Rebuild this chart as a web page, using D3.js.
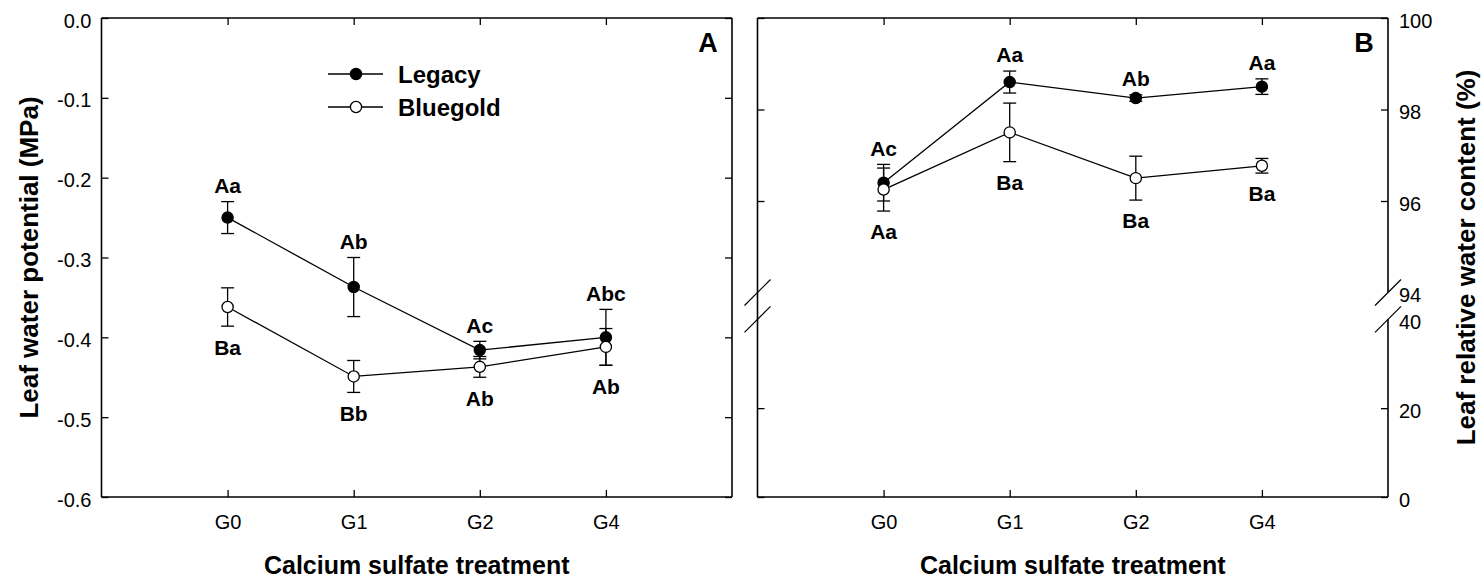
<!DOCTYPE html>
<html><head><meta charset="utf-8">
<script src="https://cdn.jsdelivr.net/npm/d3@7"></script>
<style>
body{margin:0;background:#fff}
svg{display:block}
text{font-family:"Liberation Sans",Arial,Helvetica,sans-serif;fill:#000}
</style>
</head><body>
<svg id="chart" width="1483" height="581"></svg>
<script>
// ---------------- data ----------------
const categories = ["G0", "G1", "G2", "G4"];
const seriesNames = ["Legacy", "Bluegold"];

// Panel A: leaf water potential (MPa)
const potLegacy = [-0.25, -0.337, -0.416, -0.400];
const potLegacyErr = [0.020, 0.037, 0.011, 0.035];
const potBluegold = [-0.362, -0.449, -0.437, -0.412];
const potBluegoldErr = [0.024, 0.020, 0.013, 0.023];
const potLegacyLetters = ["Aa", "Ab", "Ac", "Abc"];
const potBluegoldLetters = ["Ba", "Bb", "Ab", "Ab"];
const potTicks = [0, -0.1, -0.2, -0.3, -0.4, -0.5, -0.6];

// Panel B: leaf relative water content (%)
const rwcLegacy = [96.4, 98.6, 98.25, 98.5];
const rwcLegacyErr = [0.40, 0.24, 0.07, 0.17];
const rwcBluegold = [96.25, 97.5, 96.5, 96.77];
const rwcBluegoldErr = [0.47, 0.64, 0.48, 0.16];
const rwcLegacyLetters = ["Ac", "Aa", "Ab", "Aa"];
const rwcBluegoldLetters = ["Aa", "Ba", "Ba", "Ba"];
const rwcTicks = [100, 98, 96, 94, 40, 20, 0];
const rwcBreak = [40, 94];

// ---------------- drawing ----------------
const svg = d3.select("#chart");
const plotTop = 18, plotBottom = 497;
const tickLen = 7;
const fmtPot = d => d.toFixed(1);

const xA = d3.scaleLinear().domain([-1, 4]).range([101.5, 732]);
const xB = d3.scaleLinear().domain([-1, 4]).range([757.5, 1388]);
const yA = d3.scaleLinear().domain([-0.6, 0]).range([plotBottom, plotTop]);
const yB = d3.scaleLinear().domain([0, rwcBreak[0], rwcBreak[1], 100]).range([plotBottom, 319.3, 292.5, plotTop]);

const idx = categories.map((c, i) => i);

function cleanAxis(g) {
  g.select(".domain").remove();
  g.selectAll(".tick line").attr("stroke", "#000").attr("stroke-width", 1.3);
  g.selectAll(".tick text").attr("font-size", 20).attr("fill", "#000")
    .style("font-family", '"Liberation Sans",Arial,sans-serif');
}

function panel(x, y, opts) {
  const g = svg.append("g");
  const [x0, x1] = x.range();
  // axes
  g.append("g").attr("transform", `translate(0,${plotBottom})`)
    .call(d3.axisBottom(x).tickValues(idx).tickFormat(i => categories[i]).tickSize(-tickLen).tickSizeOuter(0).tickPadding(18))
    .call(cleanAxis);
  g.append("g").attr("transform", `translate(0,${plotTop})`)
    .call(d3.axisTop(x).tickValues(idx).tickFormat("").tickSize(-tickLen).tickSizeOuter(0))
    .call(cleanAxis);
  opts.axes(g, x0, x1);

  // frame
  const frame = g.append("g").attr("stroke", "#000").attr("stroke-width", 1.6).attr("fill", "none");
  frame.append("line").attr("x1", x0).attr("x2", x1).attr("y1", plotTop).attr("y2", plotTop);
  frame.append("line").attr("x1", x0).attr("x2", x1).attr("y1", plotBottom).attr("y2", plotBottom);
  frame.append("line").attr("x1", x0).attr("x2", x0).attr("y1", plotTop).attr("y2", plotBottom);
  if (opts.breakRight) {
    frame.append("line").attr("x1", x1).attr("x2", x1).attr("y1", plotTop).attr("y2", y(rwcBreak[1]));
    frame.append("line").attr("x1", x1).attr("x2", x1).attr("y1", y(rwcBreak[0])).attr("y2", plotBottom);
    [x0, x1].forEach(xx => {
      rwcBreak.forEach(v => {
        frame.append("line").attr("stroke-width", 1.2)
          .attr("x1", xx - 13).attr("y1", y(v) + 13)
          .attr("x2", xx + 13).attr("y2", y(v) - 13);
      });
    });
  } else {
    frame.append("line").attr("x1", x1).attr("x2", x1).attr("y1", plotTop).attr("y2", plotBottom);
  }

  const series = [
    {vals: opts.s1, err: opts.e1, fill: "#000", letters: opts.l1, above: true},
    {vals: opts.s2, err: opts.e2, fill: "#fff", letters: opts.l2, above: false}
  ];
  // error bars
  const eb = g.append("g").attr("stroke", "#000").attr("stroke-width", 1.3);
  series.forEach(s => {
    s.vals.forEach((v, i) => {
      const cx = x(i), yt = y(v + s.err[i]), yb = y(v - s.err[i]);
      eb.append("line").attr("x1", cx).attr("x2", cx).attr("y1", yt).attr("y2", yb);
      eb.append("line").attr("x1", cx - 6.5).attr("x2", cx + 6.5).attr("y1", yt).attr("y2", yt);
      eb.append("line").attr("x1", cx - 6.5).attr("x2", cx + 6.5).attr("y1", yb).attr("y2", yb);
    });
  });
  // lines
  const line = d3.line().x((d, i) => x(i)).y(d => y(d));
  series.forEach(s => {
    g.append("path").datum(s.vals).attr("d", line)
      .attr("fill", "none").attr("stroke", "#000").attr("stroke-width", 1.3);
  });
  // markers
  series.forEach(s => {
    g.append("g").selectAll("circle").data(s.vals).join("circle")
      .attr("cx", (d, i) => x(i)).attr("cy", d => y(d)).attr("r", 5.6)
      .attr("fill", s.fill).attr("stroke", "#000").attr("stroke-width", 1.3);
  });
  // letters
  series.forEach(s => {
    g.append("g").selectAll("text").data(s.vals).join("text")
      .attr("x", (d, i) => x(i))
      .attr("y", (d, i) => s.above ? y(d + s.err[i]) - 16 : y(d - s.err[i]) + 21)
      .attr("dy", "0.35em").attr("text-anchor", "middle")
      .attr("font-size", 21).attr("font-weight", "bold")
      .text((d, i) => s.letters[i]);
  });
  // panel letter
  g.append("text").attr("x", x1 - 24).attr("y", 52).attr("text-anchor", "middle")
    .attr("font-size", 27).attr("font-weight", "bold").text(opts.letter);
  // x title
  g.append("text").attr("x", (x0 + x1) / 2).attr("y", 574).attr("text-anchor", "middle")
    .attr("font-size", 25).attr("font-weight", "bold").text("Calcium sulfate treatment");
  return g;
}

// Panel A
panel(xA, yA, {
  s1: potLegacy, e1: potLegacyErr, s2: potBluegold, e2: potBluegoldErr,
  l1: potLegacyLetters, l2: potBluegoldLetters, letter: "A",
  axes: (g, x0, x1) => {
    g.append("g").attr("transform", `translate(${x0},0)`)
      .call(d3.axisLeft(yA).tickValues(potTicks).tickFormat(fmtPot).tickSize(-tickLen).tickSizeOuter(0).tickPadding(10))
      .call(cleanAxis)
      .selectAll(".tick text").attr("dy", "0.45em");
    g.append("g").attr("transform", `translate(${x1},0)`)
      .call(d3.axisRight(yA).tickValues(potTicks).tickFormat("").tickSize(-tickLen).tickSizeOuter(0))
      .call(cleanAxis);
  }
});

// Panel B
panel(xB, yB, {
  s1: rwcLegacy, e1: rwcLegacyErr, s2: rwcBluegold, e2: rwcBluegoldErr,
  l1: rwcLegacyLetters, l2: rwcBluegoldLetters, letter: "B", breakRight: true,
  axes: (g, x0, x1) => {
    const inner = rwcTicks.filter(v => !rwcBreak.includes(v));
    g.append("g").attr("transform", `translate(${x0},0)`)
      .call(d3.axisLeft(yB).tickValues(inner).tickFormat("").tickSize(-tickLen).tickSizeOuter(0))
      .call(cleanAxis);
    const ra = g.append("g").attr("transform", `translate(${x1},0)`)
      .call(d3.axisRight(yB).tickValues(rwcTicks).tickFormat(d => String(d)).tickSize(-tickLen).tickSizeOuter(0).tickPadding(11))
      .call(cleanAxis);
    ra.selectAll(".tick text").attr("dy", "0.45em");
    ra.selectAll(".tick").filter(d => rwcBreak.includes(d)).select("line").remove();
  }
});

// y titles
svg.append("text").attr("transform", "translate(29,257.5) rotate(-90)")
  .attr("text-anchor", "middle").attr("dy", "0.35em")
  .attr("font-size", 26).attr("font-weight", "bold").text("Leaf water potential (MPa)");
svg.append("text").attr("transform", "translate(1466,257.5) rotate(-90)")
  .attr("text-anchor", "middle").attr("dy", "0.35em")
  .attr("font-size", 26).attr("font-weight", "bold").text("Leaf relative water content (%)");

// legend
const legend = svg.append("g");
const legendFills = ["#000", "#fff"];
seriesNames.forEach((name, i) => {
  const ly = 74 + i * 33;
  legend.append("line").attr("x1", 328).attr("x2", 383).attr("y1", ly).attr("y2", ly)
    .attr("stroke", "#000").attr("stroke-width", 1.3);
  legend.append("circle").attr("cx", 356).attr("cy", ly).attr("r", 5.6)
    .attr("fill", legendFills[i]).attr("stroke", "#000").attr("stroke-width", 1.3);
  legend.append("text").attr("x", 398).attr("y", ly).attr("dy", "0.36em")
    .attr("font-size", 24).attr("font-weight", "bold").text(name);
});
</script>
</body></html>
